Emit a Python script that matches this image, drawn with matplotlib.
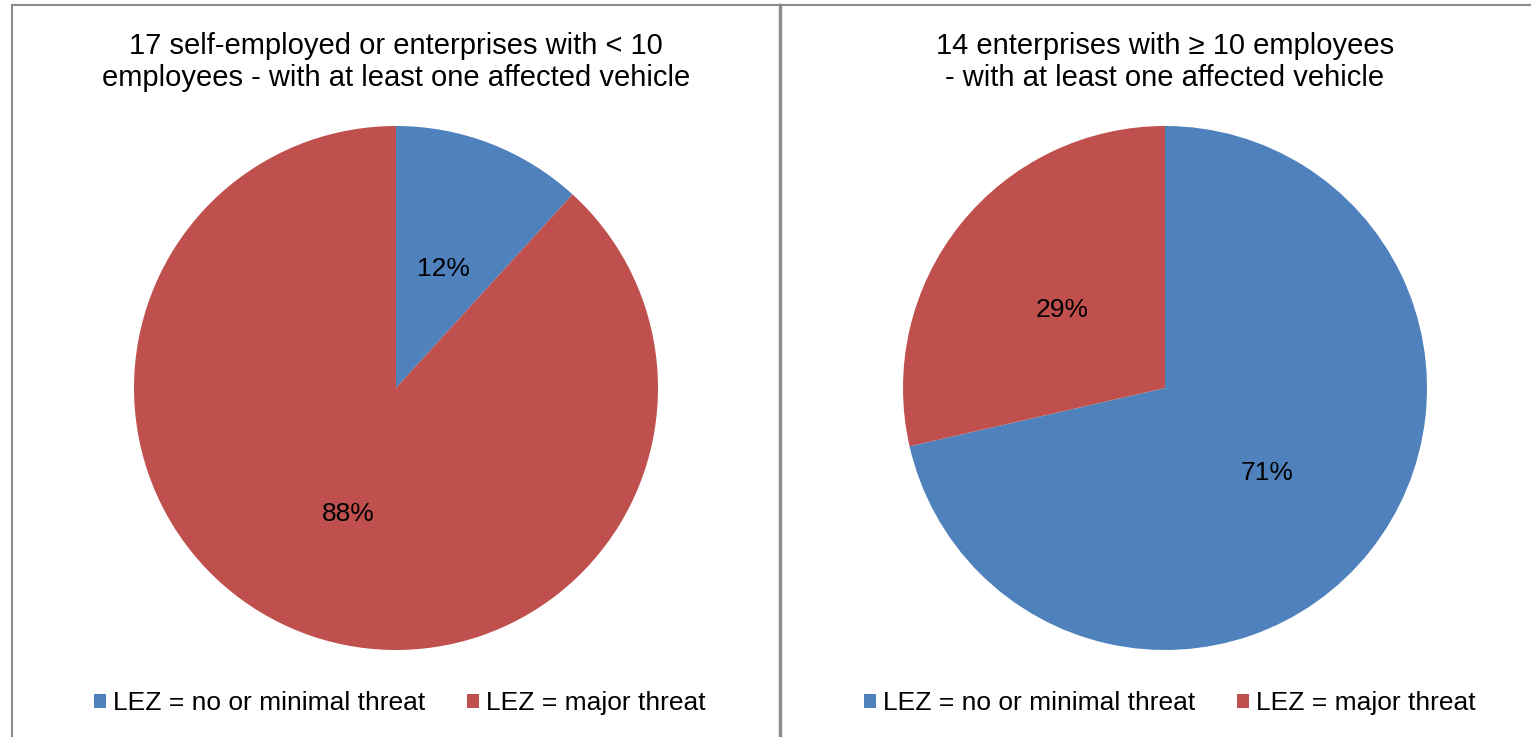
import matplotlib
matplotlib.use("Agg")
import matplotlib.pyplot as plt
from matplotlib.patches import Patch
from matplotlib.lines import Line2D

plt.rcParams['font.family'] = ['Liberation Sans', 'DejaVu Sans']

categories = ["LEZ = no or minimal threat", "LEZ = major threat"]
colors = ["#4F81BD", "#C0504D"]
titles = ["17 self-employed or enterprises with < 10\nemployees - with at least one affected vehicle",
          "14 enterprises with \u2265 10 employees\n- with at least one affected vehicle"]
small_counts = [2, 15]
large_counts = [10, 4]

W, H = 1531, 737
fig = plt.figure(figsize=(W / 100, H / 100), dpi=100)

R = 262
centers = [(396, 388), (1165, 388)]
legend_x = [400, 1170]
data = [small_counts, large_counts]

for (cx, cy), vals, title, lx in zip(centers, data, titles, legend_x):
    ax = fig.add_axes([(cx - R) / W, (H - cy - R) / H, 2 * R / W, 2 * R / H])
    wedges, texts, autotexts = ax.pie(vals, colors=colors, startangle=90, counterclock=False,
           autopct=lambda p: f"{p:.0f}%", pctdistance=0.5, radius=1,
           textprops=dict(fontsize=19, color="black"))
    for t in autotexts:
        x, y = t.get_position()
        t.set_position((x, y - 0.013))
    ax.set_xlim(-1, 1)
    ax.set_ylim(-1, 1)
    ax.set_aspect("equal")
    ax.axis("off")
    fig.text(cx / W, 1 - 62 / H, title, ha="center", va="center",
             fontsize=21, linespacing=1.22)
    handles = [Patch(facecolor=c, edgecolor="none") for c in colors]
    fig.legend(handles, categories, loc="center", bbox_to_anchor=(lx / W, 1 - 703 / H),
               ncol=2, frameon=False, fontsize=19, handlelength=0.45, handleheight=0.45,
               handletextpad=0.25, columnspacing=1.6)

gray = "#8c8c8c"
fig.add_artist(Line2D([12 / W, 12 / W], [0, 1 - 5 / H], color=gray, lw=1.5, transform=fig.transFigure))
fig.add_artist(Line2D([12 / W, 1], [1 - 5 / H, 1 - 5 / H], color=gray, lw=1.5, transform=fig.transFigure))
fig.add_artist(Line2D([780 / W, 780 / W], [0, 1 - 5 / H], color=gray, lw=2.5, transform=fig.transFigure))

fig.savefig("out.png", dpi=100, facecolor="white")
